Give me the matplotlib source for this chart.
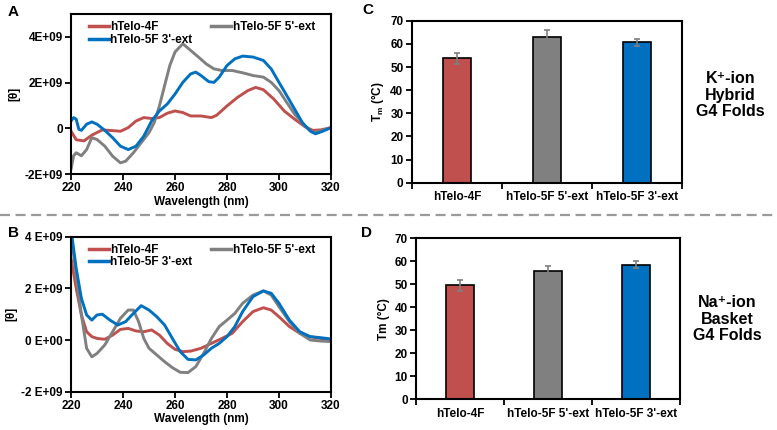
import matplotlib
matplotlib.use("Agg")
import matplotlib.pyplot as plt
import numpy as np
from matplotlib.lines import Line2D

plt.rcParams['font.family'] = ['Liberation Sans', 'DejaVu Sans']
plt.rcParams['font.weight'] = 'bold'
plt.rcParams['mathtext.fontset'] = 'custom'
plt.rcParams['mathtext.rm'] = 'Liberation Sans:bold'
plt.rcParams['mathtext.it'] = 'Liberation Sans:bold'
plt.rcParams['mathtext.default'] = 'rm'

RED = '#C0504D'
GRAY = '#808080'
BLUE = '#0070C0'

# ---- panel A: K+ CD spectra (values in 1E9 units) ----
a_red_x = [220, 222, 225, 228, 232, 236, 239, 242, 245, 248, 251, 254, 257, 260, 263, 266, 270, 274, 276,
           280, 284, 288, 291, 294, 298, 302, 306, 310, 313, 316, 320]
a_red_y = [-0.12, -0.5, -0.55, -0.3, -0.07, -0.1, -0.13, 0.03, 0.32, 0.47, 0.43, 0.47, 0.66, 0.76, 0.69, 0.54,
           0.54, 0.47, 0.57, 0.98, 1.35, 1.65, 1.79, 1.69, 1.28, 0.76, 0.4, 0.07, -0.09, -0.07, 0.03]

a_gray_x = [220, 221, 222, 224, 226, 228, 230, 233, 236, 239, 241, 244, 247, 250, 252, 254, 256, 258, 260, 263,
            266, 269, 272, 275, 278, 282, 286, 290, 294, 297, 300, 303, 306, 310, 313, 316, 320]
a_gray_y = [-1.8, -1.2, -1.07, -1.2, -0.93, -0.41, -0.49, -0.78, -1.22, -1.51, -1.44, -1.07, -0.63, -0.19, 0.25,
            0.98, 1.87, 2.75, 3.34, 3.7, 3.41, 3.12, 2.82, 2.6, 2.53, 2.53, 2.43, 2.31, 2.24, 2.01, 1.65, 1.13,
            0.62, 0.1, -0.19, -0.12, 0.03]

a_blue_x = [220, 221, 222, 223, 224, 226, 228, 230, 233, 236, 239, 242, 245, 248, 251, 254, 257, 260, 263, 266,
            268, 270, 273, 275, 277, 280, 283, 286, 290, 294, 297, 300, 303, 306, 309, 312, 314, 317, 320]
a_blue_y = [0.32, 0.47, 0.4, -0.04, -0.09, 0.18, 0.28, 0.18, -0.09, -0.41, -0.78, -0.93, -0.78, -0.34, 0.32,
            0.76, 1.06, 1.5, 2.01, 2.38, 2.46, 2.31, 2.04, 2.01, 2.24, 2.75, 3.04, 3.16, 3.12, 2.97, 2.6, 2.01,
            1.43, 0.84, 0.25, -0.12, -0.24, -0.12, 0.03]

# ---- panel B: Na+ CD spectra ----
b_red_x = [220, 222, 224, 226, 228, 230, 233, 236, 239, 242, 245, 248, 251, 254, 257, 260, 263, 266, 270, 274,
           278, 282, 286, 290, 294, 297, 300, 304, 308, 312, 316, 320]
b_red_y = [3.16, 2.0, 0.97, 0.32, 0.13, 0.06, 0.03, 0.19, 0.41, 0.45, 0.35, 0.32, 0.39, 0.19, -0.13, -0.36,
           -0.45, -0.43, -0.32, -0.13, 0.06, 0.26, 0.71, 1.1, 1.25, 1.16, 0.9, 0.52, 0.26, 0.13, 0.06, 0.0]

b_gray_x = [220, 222, 224, 226, 228, 230, 233, 236, 239, 242, 244, 246, 248, 250, 253, 256, 259, 262, 265, 268,
            271, 274, 277, 280, 283, 286, 290, 294, 297, 300, 304, 308, 312, 316, 320]
b_gray_y = [4.1, 2.5, 0.97, -0.32, -0.65, -0.52, -0.19, 0.32, 0.84, 1.16, 1.16, 0.71, 0.06, -0.32, -0.58, -0.84,
            -1.07, -1.25, -1.26, -1.03, -0.52, 0.06, 0.52, 0.77, 1.03, 1.42, 1.74, 1.9, 1.74, 1.29, 0.71, 0.26,
            0.0, -0.04, -0.06]

b_blue_x = [220, 222, 224, 226, 228, 230, 232, 235, 238, 241, 244, 247, 250, 253, 256, 259, 262, 265, 268, 271,
            274, 277, 280, 283, 286, 290, 294, 297, 300, 304, 308, 312, 316, 320]
b_blue_y = [4.3, 2.77, 1.61, 0.97, 0.77, 0.97, 1.0, 0.77, 0.58, 0.71, 1.03, 1.33, 1.16, 0.9, 0.58, 0.06, -0.45,
            -0.75, -0.77, -0.58, -0.32, -0.13, 0.13, 0.52, 1.1, 1.68, 1.9, 1.81, 1.42, 0.77, 0.32, 0.13, 0.09, 0.04]

# ---- bar panels: melting temperatures ----
samples = ["hTelo-4F", "hTelo-5F 5'-ext", "hTelo-5F 3'-ext"]
tm_k = [53.7, 63.0, 60.7]
tm_k_err = [2.3, 3.0, 1.5]
tm_na = [49.5, 56.0, 58.5]
tm_na_err = [2.5, 2.0, 1.5]

fig = plt.figure(figsize=(7.77, 4.30), dpi=100)

FS = 8.5


def style_axes(ax):
    for s in ax.spines.values():
        s.set_linewidth(1.5)
        s.set_color('black')
    ax.tick_params(direction='out', length=4, width=1.3, labelsize=FS, pad=2)
    for lab in ax.get_xticklabels() + ax.get_yticklabels():
        lab.set_fontweight('bold')


def cd_panel(rect, series, ylim, yticks, yticklabels, letter, letter_y):
    ax = fig.add_axes(rect)
    for (x, y, c) in series:
        ax.plot(x, np.array(y) * 1e9, color=c, lw=2.1, solid_joinstyle='round', solid_capstyle='round')
    ax.set_xlim(220, 320)
    ax.set_ylim(*ylim)
    ax.set_xticks([220, 240, 260, 280, 300, 320])
    ax.set_yticks(yticks)
    ax.set_yticklabels(yticklabels)
    ax.set_xlabel('Wavelength (nm)', fontsize=FS, fontweight='bold', labelpad=1)
    ax.set_ylabel('[θ]', fontsize=FS, fontweight='bold', labelpad=3)
    style_axes(ax)
    handles = [Line2D([], [], color=RED, lw=2.5), Line2D([], [], color=BLUE, lw=2.5),
               Line2D([], [], color=GRAY, lw=2.5)]
    labels = ['hTelo-4F', "hTelo-5F 3'-ext", "hTelo-5F 5'-ext"]
    ax.legend(handles, labels, ncol=2, loc='upper left', bbox_to_anchor=(0.04, 1.0), frameon=False,
              prop={'size': FS, 'weight': 'bold'}, handlelength=1.7, handletextpad=0.15,
              labelspacing=0.05, columnspacing=1.6, borderaxespad=0.2)
    fig.text(0.010, letter_y, letter, fontsize=11, fontweight='bold', va='center')
    return ax


def bar_panel(rect, vals, errs, ylabel, letter, letter_xy, side_text, side_xy):
    ax = fig.add_axes(rect)
    x = np.arange(len(samples))
    ax.bar(x, vals, width=0.31, color=[RED, GRAY, BLUE], edgecolor='black', linewidth=1.2, zorder=2)
    ax.errorbar(x, vals, yerr=errs, fmt='none', ecolor=GRAY, elinewidth=1.2, capsize=2.5, capthick=1.2, zorder=3)
    ax.set_xlim(-0.5, 2.5)
    ax.set_ylim(0, 70)
    ax.set_yticks(range(0, 71, 10))
    ax.set_xticks(x)
    ax.set_xticklabels(samples)
    ax.set_xticks([-0.5, 0.5, 1.5, 2.5], minor=True)
    ax.set_ylabel(ylabel, fontsize=FS, fontweight='bold', labelpad=3)
    style_axes(ax)
    ax.tick_params(axis='x', which='major', length=0, pad=6)
    ax.tick_params(axis='x', which='minor', direction='out', length=4, width=1.3)
    fig.text(letter_xy[0], letter_xy[1], letter, fontsize=11, fontweight='bold', va='center')
    fig.text(side_xy[0], side_xy[1], side_text, fontsize=11.5, fontweight='bold',
             ha='center', va='center', linespacing=1.15)
    return ax


cd_panel([0.0914, 0.5953, 0.3346, 0.372],
         [(a_red_x, a_red_y, RED), (a_gray_x, a_gray_y, GRAY), (a_blue_x, a_blue_y, BLUE)],
         (-2e9, 5e9), [-2e9, 0, 2e9, 4e9], ['-2E+09', '0', '2E+09', '4E+09'], 'A', 0.972)
cd_panel([0.0914, 0.0891, 0.3346, 0.3605],
         [(b_red_x, b_red_y, RED), (b_gray_x, b_gray_y, GRAY), (b_blue_x, b_blue_y, BLUE)],
         (-2e9, 4e9), [-2e9, 0, 2e9, 4e9], ['-2 E+09', '0 E+00', '2 E+09', '4 E+09'], 'B', 0.458)

bar_panel([0.530, 0.5751, 0.348, 0.3767], tm_k, tm_k_err, 'T$_{m}$ (°C)', 'C', (0.466, 0.976),
          'K⁺-ion\nHybrid\nG4 Folds', (0.940, 0.779))
bar_panel([0.5354, 0.0714, 0.3398, 0.3744], tm_na, tm_na_err, 'Tm (°C)', 'D', (0.465, 0.458),
          'Na⁺-ion\nBasket\nG4 Folds', (0.936, 0.258))

# dashed separator between K+ and Na+ rows
fig.add_artist(Line2D([0, 1], [0.5, 0.5], transform=fig.transFigure, color='#9a9a9a',
                      lw=1.6, linestyle=(0, (4.5, 2.5))))

fig.savefig('out.png', dpi=100)
